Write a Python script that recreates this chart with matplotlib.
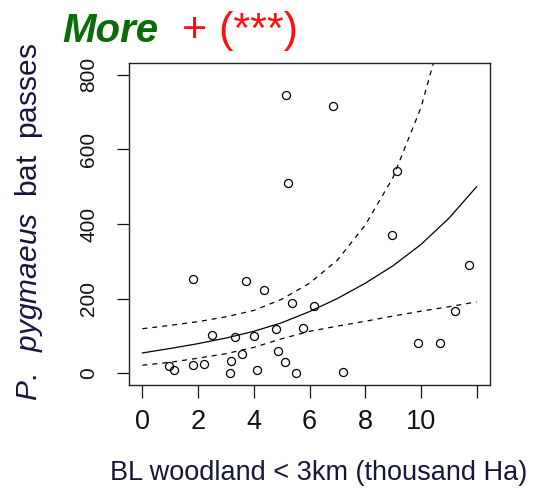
import matplotlib
matplotlib.use("Agg")
import matplotlib.pyplot as plt
from matplotlib.transforms import Bbox

plt.rcParams['font.family'] = ['Liberation Sans', 'DejaVu Sans']
plt.rcParams['mathtext.fontset'] = 'custom'
plt.rcParams['mathtext.it'] = 'Liberation Sans:italic'
plt.rcParams['mathtext.rm'] = 'Liberation Sans'

# observed points (BL woodland, thousand Ha ; bat passes)
woodland = [5.14, 6.84, 5.23, 1.80, 3.72, 4.36, 5.36, 6.15, 2.49, 3.33, 4.02,
            4.81, 5.75, 3.58, 4.87, 5.11, 0.94, 1.12, 1.80, 2.21, 3.19, 3.13,
            4.13, 5.53, 7.22, 9.14, 8.95, 11.73, 11.24, 9.89, 10.70]
passes = [745, 716, 510, 253, 247, 224, 188, 180, 103, 96, 99,
          119, 122, 52, 58, 30, 20, 7, 21, 25, 32, 0,
          9, 0, 4, 543, 371, 290, 167, 81, 81]

# fitted curve and confidence band
curve_x = [0, 1, 2, 3, 4, 5, 6, 7, 8, 9, 10, 11, 12]
fit = [54, 66, 79, 94, 112, 135, 165, 200, 241, 288, 345, 415, 500]
lower = [21, 29, 40, 52, 69, 92, 112, 126, 139, 153, 166, 178, 191]
upper = [119, 128, 138, 151, 168, 198, 241, 303, 397, 525, 712, 980, 1350]

xticks = [0, 2, 4, 6, 8, 10, 12]
xticklabels = ['0', '2', '4', '6', '8', '10', '']
yticks = [0, 200, 400, 600, 800]
yticklabels = ['0', '200', '400', '600', '800']

W, H = 533, 494
fig = plt.figure(figsize=(W / 100, H / 100), dpi=100)
fig.patch.set_facecolor('white')
ax = fig.add_axes([129 / W, 1 - 385 / H, (490 - 129) / W, (385 - 63) / H])

ax.plot(curve_x, fit, color='black', lw=0.9)
ax.plot(curve_x, lower, color='black', lw=0.9, dashes=(4, 4))
ax.plot(curve_x, upper, color='black', lw=0.9, dashes=(4, 4))
ax.plot(woodland, passes, linestyle='none', marker='o', markersize=5.8,
        markerfacecolor='none', markeredgecolor='black', markeredgewidth=0.9)

ax.set_xlim(-0.48, 12.48)
ax.set_ylim(-32, 832)
ax.set_xticks(xticks)
ax.set_xticklabels(xticklabels)
ax.set_yticks(yticks)
ax.set_yticklabels(yticklabels, rotation=90, va='center')

for s in ax.spines.values():
    s.set_linewidth(1.0)
    s.set_color('#222222')

ax.tick_params(axis='x', length=9, width=0.9, pad=8.5, labelsize=19.5,
               colors='#111111', direction='out')
ax.tick_params(axis='y', length=9, width=0.9, pad=13, labelsize=15,
               colors='#111111', direction='out')

# the reference cuts the top of the upper tick label
clip = Bbox.from_extents(0, 0, W, H - 56)
for lab in ax.get_yticklabels():
    lab.set_clip_on(True)
    lab.set_clip_box(clip)

fig.text(62 / W, 1 - 42 / H, 'More', color='#0b6b0b', fontsize=29,
         fontweight='bold', fontstyle='italic', ha='left', va='baseline')
fig.text(182 / W, 1 - 42 / H, '+ (***)', color='#ff1010', fontsize=31,
         ha='left', va='baseline')

fig.text(29 / W, 1 - 222 / H, r'$\it{P.}$  $\it{pygmaeus}$  bat  passes',
         rotation=90, ha='center', va='center', fontsize=21.5, color='#16163a')
fig.text(319 / W, 1 - 480 / H, 'BL woodland < 3km (thousand Ha)',
         ha='center', va='baseline', fontsize=19.5, color='#16163a')

fig.savefig('out.png', dpi=100, facecolor='white')
